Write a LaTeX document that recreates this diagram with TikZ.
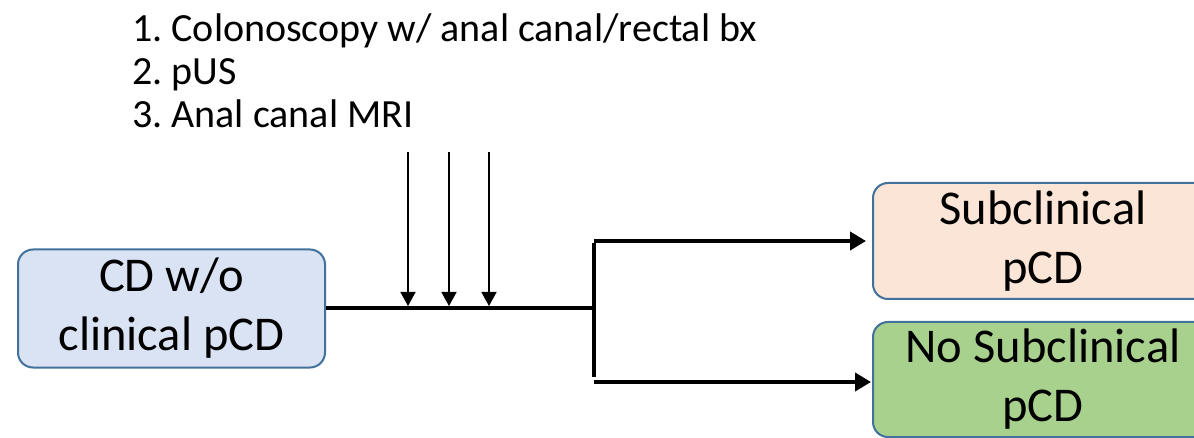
\documentclass[tikz,border=0pt]{standalone}
\usepackage{fontspec}
\setmainfont{Carlito}
\usetikzlibrary{arrows.meta, positioning}
\definecolor{boxline}{RGB}{65,113,156}
\definecolor{inputblue}{RGB}{218,227,243}
\definecolor{subpeach}{RGB}{251,229,214}
\definecolor{nosubgreen}{RGB}{169,209,142}
\frenchspacing

\begin{document}
\begin{tikzpicture}[
    x=1pt, y=-1pt,
    >=Triangle,
    state/.style={draw=boxline, line width=2pt, rounded corners=15pt,
        align=center, inner sep=0pt, font=\fontsize{48.5pt}{59pt}\selectfont},
    flow/.style={line width=4.5pt, -{Triangle[length=16pt, width=18pt]}},
    testarrow/.style={line width=1.5pt, -{Triangle[length=14pt, width=15pt]}},
    listtext/.style={anchor=base west, inner sep=0pt, font=\fontsize{40pt}{45pt}\selectfont},
]

% === Lienzo ===
\useasboundingbox (0,0) rectangle (1194,438);
\clip (0,0) rectangle (1194,438);

% === Lista de pruebas ===
\node[listtext] (item1) at (132,42) {1. Colonoscopy w/ anal canal/rectal bx};
\node[listtext] (item2) at (132,85) {2. pUS};
\node[listtext] (item3) at (132,128) {3. Anal canal MRI};

% === Cajas ===
\node[state, fill=inputblue, minimum width=307pt, minimum height=118pt] (cdbox) at (171.5,308.5) {CD w/o\\clinical pCD};
\node[state, fill=subpeach, minimum width=340pt, minimum height=116pt] (subbox) at (1043,241) {Subclinical\\pCD};
\node[state, fill=nosubgreen, minimum width=340pt, minimum height=115pt] (nosubbox) at (1043,379.5) {No Subclinical\\pCD};

% === Flechas de las pruebas ===
\foreach \x [count=\i] in {408,449,489} {
    \coordinate (top\i) at (\x,152);
    \coordinate (hit\i) at (\x,306);
    \draw[testarrow] (top\i) -- (hit\i);
}

% === Bifurcación ===
\coordinate (split) at (594,308);
\draw[line width=4.5pt] (cdbox.east |- split) -- (split);
\draw[line width=4.5pt] ([yshift=-2.25pt]split |- subbox.west) -- ([yshift=2.25pt]split |- nosubbox.west);
\draw[flow, shorten >=6pt] (split |- subbox.west) -- (subbox.west);
\draw[flow, shorten >=1pt] ([yshift=-2.5pt]split |- nosubbox.west) -- ([yshift=-2.5pt]nosubbox.west);

\end{tikzpicture}
\end{document}
